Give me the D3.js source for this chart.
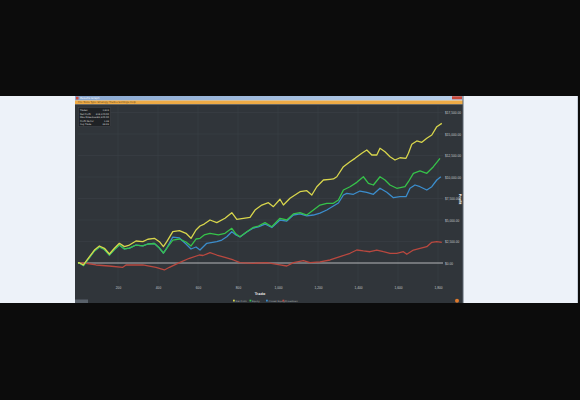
<!DOCTYPE html>
<html>
<head>
<meta charset="utf-8">
<script src="https://cdn.jsdelivr.net/npm/d3@7"></script>
<style>
  html, body { margin: 0; padding: 0; background: #0c0c0c; }
  svg { display: block; font-family: "DejaVu Sans", sans-serif; }
</style>
</head>
<body>
<div id="root"></div>
<script>
const width = 580
const height = 400

// trade number / cumulative dollars
const netTrades = [0, 6, 27, 82, 107, 132, 157, 182, 207, 232, 257, 290, 324, 349, 382, 407, 427, 444, 474, 507, 540, 565, 590, 610, 631, 660, 694, 735, 769, 794, 827, 860, 885, 919, 952, 977, 1010, 1027, 1060, 1110, 1144, 1169, 1194, 1227, 1260, 1277, 1294, 1327, 1360, 1385, 1419, 1444, 1469, 1494, 1510, 1535, 1560, 1585, 1610, 1640, 1652, 1669, 1694, 1719, 1744, 1769, 1794, 1819]
const netProfit = [0, 35, -230, 1510, 1980, 1710, 1050, 1710, 2290, 1900, 2090, 2560, 2480, 2760, 2870, 2480, 1900, 2480, 3640, 3760, 3450, 2870, 3840, 4300, 4530, 5000, 4690, 5200, 5850, 5080, 5200, 5310, 6160, 6740, 7010, 6550, 7410, 6740, 7520, 8290, 8410, 7910, 8870, 9650, 9730, 9770, 10030, 11200, 11780, 12170, 12760, 13140, 12560, 12560, 13340, 12940, 12360, 11980, 12240, 12170, 12760, 13800, 14190, 14030, 14500, 14880, 15850, 16240]

const equityTrades = [0, 6, 27, 82, 107, 132, 157, 182, 207, 232, 257, 290, 324, 349, 382, 407, 427, 444, 474, 507, 540, 565, 590, 610, 631, 660, 702, 735, 769, 790, 810, 844, 877, 902, 935, 969, 1010, 1044, 1077, 1110, 1144, 1177, 1210, 1244, 1277, 1302, 1327, 1360, 1394, 1427, 1452, 1477, 1510, 1535, 1560, 1594, 1635, 1652, 1677, 1710, 1744, 1777, 1810]
const equity = [0, 0, -290, 1400, 1860, 1570, 930, 1570, 2090, 1630, 1740, 2090, 1980, 2210, 2270, 1740, 1160, 1740, 2670, 2790, 2440, 1980, 2790, 2870, 3260, 3450, 3260, 3450, 4030, 3370, 3060, 3640, 4150, 4300, 4690, 4220, 5200, 5000, 5700, 5850, 5580, 6160, 6740, 6940, 6940, 7330, 8490, 8870, 9380, 10030, 9270, 9070, 10030, 9650, 9070, 8690, 8870, 9450, 10430, 10700, 10430, 11200, 12170]

const closedTrades = [0, 6, 27, 82, 107, 132, 157, 182, 207, 232, 257, 290, 324, 349, 382, 407, 427, 444, 474, 507, 540, 565, 590, 610, 644, 694, 719, 744, 769, 790, 810, 844, 877, 902, 935, 969, 1010, 1044, 1077, 1110, 1144, 1177, 1210, 1244, 1277, 1302, 1327, 1344, 1377, 1410, 1444, 1477, 1510, 1544, 1577, 1610, 1640, 1660, 1685, 1710, 1744, 1769, 1794, 1814]
const closedEquity = [0, 0, -290, 1400, 1860, 1570, 930, 1570, 2090, 1630, 1740, 2090, 1980, 2210, 2270, 1740, 1160, 1740, 3020, 2910, 2210, 1630, 1860, 1510, 2290, 2480, 2670, 3060, 3640, 3260, 3020, 3600, 4070, 4190, 4530, 4130, 5000, 4880, 5580, 5700, 5470, 5580, 5810, 6160, 6630, 6980, 7910, 8100, 7990, 8370, 8220, 7990, 8690, 8220, 7590, 7710, 7710, 8690, 9070, 8870, 8490, 8870, 9650, 10030]

const ddTrades = [0, 5, 40, 90, 155, 224, 240, 324, 390, 432, 457, 507, 557, 607, 625, 660, 694, 735, 777, 810, 877, 944, 1010, 1044, 1077, 1127, 1160, 1210, 1260, 1310, 1360, 1394, 1427, 1460, 1494, 1527, 1560, 1594, 1627, 1644, 1677, 1710, 1744, 1769, 1794, 1819]
const drawdown = [0, 0, -30, -230, -350, -500, -230, -230, -500, -810, -500, 35, 550, 930, 870, 1200, 930, 660, 350, 35, -35, 35, -230, -350, 35, 270, 35, 120, 350, 730, 1130, 1510, 1400, 1310, 1510, 1310, 1130, 1130, 1310, 1010, 1510, 1710, 1900, 2410, 2480, 2410]

const xTicks = [200, 400, 600, 800, 1000, 1200, 1400, 1600, 1800]
const yTicks = [0, 2500, 5000, 7500, 10000, 12500, 15000, 17500]

const statLabels = ['Trades', 'Net Profit', 'Max Drawdown', 'Profit Factor', 'Avg Trade']
const statValues = ['1,819', '$16,240.00', '-$2,840.00', '1.38', '$8.93']

const legendNames = ['Net Profit', 'Equity', 'Closed Equity', 'Drawdown']
const seriesColors = ['#d8d64c', '#36c24a', '#3b8dcc', '#b9483f']

const svg = d3.select('#root').append('svg')
  .attr('width', width)
  .attr('height', height)

svg.append('rect').attr('width', width).attr('height', height).attr('fill', '#0c0c0c')

// light desktop panel behind the window
svg.append('rect')
  .attr('x', 0).attr('y', 96).attr('width', 578).attr('height', 207)
  .attr('fill', '#edf2f9')
svg.append('line')
  .attr('x1', 577.5).attr('x2', 577.5).attr('y1', 96).attr('y2', 303)
  .attr('stroke', '#c5ced9')

// window frame
const defs = svg.append('defs')
const grad = defs.append('linearGradient').attr('id', 'titlebar')
grad.append('stop').attr('offset', '0%').attr('stop-color', '#8aa9d2')
grad.append('stop').attr('offset', '100%').attr('stop-color', '#b8cfea')

svg.append('rect')
  .attr('x', 75).attr('y', 96).attr('width', 388).attr('height', 4.5)
  .attr('fill', 'url(#titlebar)')
svg.append('rect')
  .attr('x', 76).attr('y', 96.7).attr('width', 2.5).attr('height', 2.8)
  .attr('fill', '#d24a3a')
svg.append('text')
  .attr('x', 80).attr('y', 99.4)
  .attr('font-size', 2.8).attr('fill', '#f4f7fb')
  .text('Results Graph')
svg.append('rect')
  .attr('x', 452).attr('y', 96.3).attr('width', 10).attr('height', 3)
  .attr('fill', '#c9483a')

svg.append('rect')
  .attr('x', 75).attr('y', 100.5).attr('width', 388).attr('height', 3.8)
  .attr('fill', '#eeab46')
svg.append('text')
  .attr('x', 78).attr('y', 103.3)
  .attr('font-size', 2.6).attr('fill', '#6a4a1a')
  .text('File  Tools  Type  Strategy  Trades  Settings  Help')

svg.append('rect')
  .attr('x', 75).attr('y', 104.3).attr('width', 388).attr('height', 198.7)
  .attr('fill', '#30353a')
svg.append('line')
  .attr('x1', 463).attr('x2', 463).attr('y1', 96).attr('y2', 303)
  .attr('stroke', '#5c6670')

const x = d3.scaleLinear().domain([0, 1820]).range([78, 442])
const y = d3.scaleLinear().domain([0, 17500]).range([263, 112.5])

// grid
svg.append('g')
  .selectAll('line')
  .data(xTicks)
  .enter().append('line')
    .attr('x1', d => x(d)).attr('x2', d => x(d))
    .attr('y1', 106).attr('y2', 283)
    .attr('stroke', '#3a4046').attr('stroke-width', 0.6)
svg.append('g')
  .selectAll('line')
  .data(yTicks.slice(1))
  .enter().append('line')
    .attr('x1', 78).attr('x2', 443)
    .attr('y1', d => y(d)).attr('y2', d => y(d))
    .attr('stroke', '#3a4046').attr('stroke-width', 0.6)

// axes
const xAxis = d3.axisBottom(x).tickValues(xTicks).tickSize(0).tickFormat(d3.format(','))
svg.append('g')
  .attr('transform', 'translate(0,286)')
  .call(xAxis)
  .call(g => g.select('.domain').remove())
  .call(g => g.selectAll('text')
    .attr('font-size', 3.2).attr('fill', '#c4c8cc').attr('dy', 0))

const yAxis = d3.axisRight(y).tickValues(yTicks).tickSize(0)
  .tickFormat(d => '$' + d3.format(',.2f')(d))
svg.append('g')
  .attr('transform', 'translate(445,0)')
  .call(yAxis)
  .call(g => g.select('.domain').remove())
  .call(g => g.selectAll('text')
    .attr('font-size', 3.2).attr('fill', '#c4c8cc').attr('x', 0))

svg.append('text')
  .attr('x', 260).attr('y', 294.5)
  .attr('text-anchor', 'middle')
  .attr('font-size', 3.4).attr('font-weight', 'bold').attr('fill', '#e0e0e0')
  .text('Trade')
svg.append('text')
  .attr('transform', 'translate(458.5,199) rotate(90)')
  .attr('text-anchor', 'middle')
  .attr('font-size', 3.4).attr('font-weight', 'bold').attr('fill', '#e8e8e8')
  .text('Profit')

// zero line
svg.append('line')
  .attr('x1', 78).attr('x2', 443)
  .attr('y1', y(0)).attr('y2', y(0))
  .attr('stroke', '#b4b6b8').attr('stroke-width', 1)

// series
const line = d3.line()
  .x(d => x(d[0]))
  .y(d => y(d[1]))

const series = [
  { xs: ddTrades, ys: drawdown, color: seriesColors[3] },
  { xs: closedTrades, ys: closedEquity, color: seriesColors[2] },
  { xs: equityTrades, ys: equity, color: seriesColors[1] },
  { xs: netTrades, ys: netProfit, color: seriesColors[0] }
]

svg.append('g')
  .selectAll('path')
  .data(series)
  .enter().append('path')
    .attr('d', s => line(d3.zip(s.xs, s.ys)))
    .attr('fill', 'none')
    .attr('stroke', s => s.color)
    .attr('stroke-width', 1.3)
    .attr('stroke-linejoin', 'round')

// stats box
const stats = svg.append('g').attr('transform', 'translate(78.5,107.5)')
stats.append('rect')
  .attr('width', 32).attr('height', 19)
  .attr('fill', '#1f2225').attr('stroke', '#4a4f55').attr('stroke-width', 0.4)
stats.selectAll('text.lab')
  .data(statLabels)
  .enter().append('text')
    .attr('class', 'lab')
    .attr('x', 1.5).attr('y', (d, i) => 3.5 + i * 3.5)
    .attr('font-size', 2.3).attr('fill', '#d8d8d8')
    .text(d => d)
stats.selectAll('text.val')
  .data(statValues)
  .enter().append('text')
    .attr('class', 'val')
    .attr('x', 30.5).attr('y', (d, i) => 3.5 + i * 3.5)
    .attr('text-anchor', 'end')
    .attr('font-size', 2.3).attr('fill', '#d8d8d8')
    .text(d => d)

// legend
const legend = svg.append('g').attr('transform', 'translate(233,301.5)')
const item = legend.selectAll('g')
  .data(legendNames)
  .enter().append('g')
    .attr('transform', (d, i) => `translate(${i * 16.5},0)`)
item.append('rect')
  .attr('y', -1.8).attr('width', 1.8).attr('height', 1.8)
  .attr('fill', (d, i) => seriesColors[i])
item.append('text')
  .attr('x', 2.6)
  .attr('font-size', 2.4).attr('fill', '#a8acb0')
  .text(d => d)

// status bits
svg.append('rect')
  .attr('x', 75).attr('y', 299.5).attr('width', 13).attr('height', 3.5)
  .attr('fill', '#59616a')
svg.append('circle')
  .attr('cx', 457).attr('cy', 300.8).attr('r', 2)
  .attr('fill', '#e07a2c')
</script>
</body>
</html>
